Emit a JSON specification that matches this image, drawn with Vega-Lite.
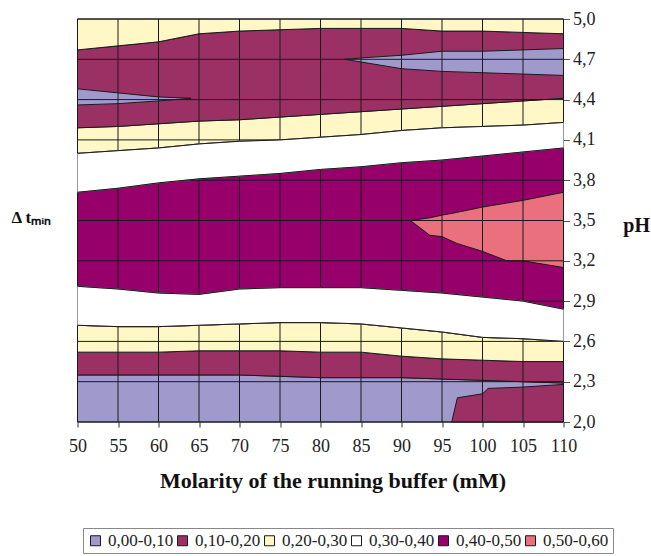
{
"$schema": "https://vega.github.io/schema/vega-lite/v6.json",
"width": 486, "height": 403,
"autosize": {"type": "none"},
"padding": {"left": 77.5, "top": 19, "right": 87.5, "bottom": 134},
"config": {"view": {"stroke": null}, "font": "Liberation Serif"},
"datasets": {
"bands": [
{"r":1,"c":"0,00-0,10","x":50,"lo":2,"hi":2.35},{"r":1,"c":"0,00-0,10","x":55,"lo":2,"hi":2.35},{"r":1,"c":"0,00-0,10","x":60,"lo":2,"hi":2.35},{"r":1,"c":"0,00-0,10","x":65,"lo":2,"hi":2.35},{"r":1,"c":"0,00-0,10","x":70,"lo":2,"hi":2.35},{"r":1,"c":"0,00-0,10","x":75,"lo":2,"hi":2.34},{"r":1,"c":"0,00-0,10","x":80,"lo":2,"hi":2.33},{"r":1,"c":"0,00-0,10","x":85,"lo":2,"hi":2.33},{"r":1,"c":"0,00-0,10","x":90,"lo":2,"hi":2.33},{"r":1,"c":"0,00-0,10","x":95,"lo":2,"hi":2.32},{"r":1,"c":"0,00-0,10","x":100,"lo":2,"hi":2.31},{"r":1,"c":"0,00-0,10","x":105,"lo":2,"hi":2.30},{"r":1,"c":"0,00-0,10","x":110,"lo":2,"hi":2.29},
{"r":2,"c":"0,10-0,20","x":50,"lo":2.35,"hi":2.52},{"r":2,"c":"0,10-0,20","x":55,"lo":2.35,"hi":2.52},{"r":2,"c":"0,10-0,20","x":60,"lo":2.35,"hi":2.52},{"r":2,"c":"0,10-0,20","x":65,"lo":2.35,"hi":2.53},{"r":2,"c":"0,10-0,20","x":70,"lo":2.35,"hi":2.53},{"r":2,"c":"0,10-0,20","x":75,"lo":2.34,"hi":2.53},{"r":2,"c":"0,10-0,20","x":80,"lo":2.33,"hi":2.52},{"r":2,"c":"0,10-0,20","x":85,"lo":2.33,"hi":2.52},{"r":2,"c":"0,10-0,20","x":90,"lo":2.33,"hi":2.49},{"r":2,"c":"0,10-0,20","x":95,"lo":2.32,"hi":2.47},{"r":2,"c":"0,10-0,20","x":100,"lo":2.31,"hi":2.46},{"r":2,"c":"0,10-0,20","x":105,"lo":2.30,"hi":2.45},{"r":2,"c":"0,10-0,20","x":110,"lo":2.29,"hi":2.45},
{"r":3,"c":"0,20-0,30","x":50,"lo":2.52,"hi":2.72},{"r":3,"c":"0,20-0,30","x":55,"lo":2.52,"hi":2.71},{"r":3,"c":"0,20-0,30","x":60,"lo":2.52,"hi":2.71},{"r":3,"c":"0,20-0,30","x":65,"lo":2.53,"hi":2.72},{"r":3,"c":"0,20-0,30","x":70,"lo":2.53,"hi":2.73},{"r":3,"c":"0,20-0,30","x":75,"lo":2.53,"hi":2.74},{"r":3,"c":"0,20-0,30","x":80,"lo":2.52,"hi":2.74},{"r":3,"c":"0,20-0,30","x":85,"lo":2.52,"hi":2.73},{"r":3,"c":"0,20-0,30","x":90,"lo":2.49,"hi":2.70},{"r":3,"c":"0,20-0,30","x":95,"lo":2.47,"hi":2.67},{"r":3,"c":"0,20-0,30","x":100,"lo":2.46,"hi":2.63},{"r":3,"c":"0,20-0,30","x":105,"lo":2.45,"hi":2.62},{"r":3,"c":"0,20-0,30","x":110,"lo":2.45,"hi":2.60},
{"r":4,"c":"0,30-0,40","x":50,"lo":2.72,"hi":3.01},{"r":4,"c":"0,30-0,40","x":55,"lo":2.71,"hi":2.99},{"r":4,"c":"0,30-0,40","x":60,"lo":2.71,"hi":2.96},{"r":4,"c":"0,30-0,40","x":65,"lo":2.72,"hi":2.95},{"r":4,"c":"0,30-0,40","x":70,"lo":2.73,"hi":2.99},{"r":4,"c":"0,30-0,40","x":75,"lo":2.74,"hi":3.00},{"r":4,"c":"0,30-0,40","x":80,"lo":2.74,"hi":3.00},{"r":4,"c":"0,30-0,40","x":85,"lo":2.73,"hi":3.00},{"r":4,"c":"0,30-0,40","x":90,"lo":2.70,"hi":2.98},{"r":4,"c":"0,30-0,40","x":95,"lo":2.67,"hi":2.96},{"r":4,"c":"0,30-0,40","x":100,"lo":2.63,"hi":2.93},{"r":4,"c":"0,30-0,40","x":105,"lo":2.62,"hi":2.90},{"r":4,"c":"0,30-0,40","x":110,"lo":2.60,"hi":2.84},
{"r":5,"c":"0,40-0,50","x":50,"lo":3.01,"hi":3.71},{"r":5,"c":"0,40-0,50","x":55,"lo":2.99,"hi":3.74},{"r":5,"c":"0,40-0,50","x":60,"lo":2.96,"hi":3.78},{"r":5,"c":"0,40-0,50","x":65,"lo":2.95,"hi":3.81},{"r":5,"c":"0,40-0,50","x":70,"lo":2.99,"hi":3.83},{"r":5,"c":"0,40-0,50","x":75,"lo":3.00,"hi":3.85},{"r":5,"c":"0,40-0,50","x":80,"lo":3.00,"hi":3.88},{"r":5,"c":"0,40-0,50","x":85,"lo":3.00,"hi":3.90},{"r":5,"c":"0,40-0,50","x":90,"lo":2.98,"hi":3.93},{"r":5,"c":"0,40-0,50","x":95,"lo":2.96,"hi":3.95},{"r":5,"c":"0,40-0,50","x":100,"lo":2.93,"hi":3.98},{"r":5,"c":"0,40-0,50","x":105,"lo":2.90,"hi":4.01},{"r":5,"c":"0,40-0,50","x":110,"lo":2.84,"hi":4.04},
{"r":6,"c":"0,30-0,40","x":50,"lo":3.71,"hi":4.00},{"r":6,"c":"0,30-0,40","x":55,"lo":3.74,"hi":4.02},{"r":6,"c":"0,30-0,40","x":60,"lo":3.78,"hi":4.04},{"r":6,"c":"0,30-0,40","x":65,"lo":3.81,"hi":4.07},{"r":6,"c":"0,30-0,40","x":70,"lo":3.83,"hi":4.09},{"r":6,"c":"0,30-0,40","x":75,"lo":3.85,"hi":4.10},{"r":6,"c":"0,30-0,40","x":80,"lo":3.88,"hi":4.12},{"r":6,"c":"0,30-0,40","x":85,"lo":3.90,"hi":4.14},{"r":6,"c":"0,30-0,40","x":90,"lo":3.93,"hi":4.17},{"r":6,"c":"0,30-0,40","x":95,"lo":3.95,"hi":4.19},{"r":6,"c":"0,30-0,40","x":100,"lo":3.98,"hi":4.20},{"r":6,"c":"0,30-0,40","x":105,"lo":4.01,"hi":4.21},{"r":6,"c":"0,30-0,40","x":110,"lo":4.04,"hi":4.23},
{"r":7,"c":"0,20-0,30","x":50,"lo":4.00,"hi":4.19},{"r":7,"c":"0,20-0,30","x":55,"lo":4.02,"hi":4.20},{"r":7,"c":"0,20-0,30","x":60,"lo":4.04,"hi":4.22},{"r":7,"c":"0,20-0,30","x":65,"lo":4.07,"hi":4.24},{"r":7,"c":"0,20-0,30","x":70,"lo":4.09,"hi":4.25},{"r":7,"c":"0,20-0,30","x":75,"lo":4.10,"hi":4.27},{"r":7,"c":"0,20-0,30","x":80,"lo":4.12,"hi":4.29},{"r":7,"c":"0,20-0,30","x":85,"lo":4.14,"hi":4.31},{"r":7,"c":"0,20-0,30","x":90,"lo":4.17,"hi":4.33},{"r":7,"c":"0,20-0,30","x":95,"lo":4.19,"hi":4.35},{"r":7,"c":"0,20-0,30","x":100,"lo":4.20,"hi":4.37},{"r":7,"c":"0,20-0,30","x":105,"lo":4.21,"hi":4.39},{"r":7,"c":"0,20-0,30","x":110,"lo":4.23,"hi":4.41},
{"r":8,"c":"0,10-0,20","x":50,"lo":4.19,"hi":4.77},{"r":8,"c":"0,10-0,20","x":55,"lo":4.20,"hi":4.80},{"r":8,"c":"0,10-0,20","x":60,"lo":4.22,"hi":4.83},{"r":8,"c":"0,10-0,20","x":65,"lo":4.24,"hi":4.89},{"r":8,"c":"0,10-0,20","x":70,"lo":4.25,"hi":4.91},{"r":8,"c":"0,10-0,20","x":75,"lo":4.27,"hi":4.92},{"r":8,"c":"0,10-0,20","x":80,"lo":4.29,"hi":4.93},{"r":8,"c":"0,10-0,20","x":85,"lo":4.31,"hi":4.93},{"r":8,"c":"0,10-0,20","x":90,"lo":4.33,"hi":4.93},{"r":8,"c":"0,10-0,20","x":95,"lo":4.35,"hi":4.91},{"r":8,"c":"0,10-0,20","x":100,"lo":4.37,"hi":4.91},{"r":8,"c":"0,10-0,20","x":105,"lo":4.39,"hi":4.90},{"r":8,"c":"0,10-0,20","x":110,"lo":4.41,"hi":4.89},
{"r":9,"c":"0,20-0,30","x":50,"lo":4.77,"hi":5},{"r":9,"c":"0,20-0,30","x":55,"lo":4.80,"hi":5},{"r":9,"c":"0,20-0,30","x":60,"lo":4.83,"hi":5},{"r":9,"c":"0,20-0,30","x":65,"lo":4.89,"hi":5},{"r":9,"c":"0,20-0,30","x":70,"lo":4.91,"hi":5},{"r":9,"c":"0,20-0,30","x":75,"lo":4.92,"hi":5},{"r":9,"c":"0,20-0,30","x":80,"lo":4.93,"hi":5},{"r":9,"c":"0,20-0,30","x":85,"lo":4.93,"hi":5},{"r":9,"c":"0,20-0,30","x":90,"lo":4.93,"hi":5},{"r":9,"c":"0,20-0,30","x":95,"lo":4.91,"hi":5},{"r":9,"c":"0,20-0,30","x":100,"lo":4.91,"hi":5},{"r":9,"c":"0,20-0,30","x":105,"lo":4.90,"hi":5},{"r":9,"c":"0,20-0,30","x":110,"lo":4.89,"hi":5}
],
"overlays": [
{"r":11,"c":"0,00-0,10","x":50,"lo":4.36,"hi":4.48},{"r":11,"c":"0,00-0,10","x":55,"lo":4.37,"hi":4.45},{"r":11,"c":"0,00-0,10","x":60,"lo":4.39,"hi":4.42},{"r":11,"c":"0,00-0,10","x":64,"lo":4.41,"hi":4.41},
{"r":12,"c":"0,00-0,10","x":83,"lo":4.70,"hi":4.70},{"r":12,"c":"0,00-0,10","x":85,"lo":4.68,"hi":4.71},{"r":12,"c":"0,00-0,10","x":90,"lo":4.63,"hi":4.73},{"r":12,"c":"0,00-0,10","x":95,"lo":4.61,"hi":4.76},{"r":12,"c":"0,00-0,10","x":100,"lo":4.60,"hi":4.76},{"r":12,"c":"0,00-0,10","x":105,"lo":4.59,"hi":4.77},{"r":12,"c":"0,00-0,10","x":110,"lo":4.58,"hi":4.78},
{"r":13,"c":"0,50-0,60","x":91.1,"lo":3.50,"hi":3.50},{"r":13,"c":"0,50-0,60","x":93.5,"lo":3.39,"hi":3.52},{"r":13,"c":"0,50-0,60","x":95,"lo":3.38,"hi":3.54},{"r":13,"c":"0,50-0,60","x":96.8,"lo":3.33,"hi":3.56},{"r":13,"c":"0,50-0,60","x":100,"lo":3.27,"hi":3.60},{"r":13,"c":"0,50-0,60","x":103,"lo":3.20,"hi":3.63},{"r":13,"c":"0,50-0,60","x":105,"lo":3.20,"hi":3.65},{"r":13,"c":"0,50-0,60","x":110,"lo":3.15,"hi":3.71},
{"r":14,"c":"0,10-0,20","x":96.2,"lo":2,"hi":2},{"r":14,"c":"0,10-0,20","x":96.9,"lo":2,"hi":2.18},{"r":14,"c":"0,10-0,20","x":100,"lo":2,"hi":2.21},{"r":14,"c":"0,10-0,20","x":100.7,"lo":2,"hi":2.25},{"r":14,"c":"0,10-0,20","x":105,"lo":2,"hi":2.26},{"r":14,"c":"0,10-0,20","x":110,"lo":2,"hi":2.28}
],
"xgrid": [{"v":50},{"v":55},{"v":60},{"v":65},{"v":70},{"v":75},{"v":80},{"v":85},{"v":90},{"v":95},{"v":100},{"v":105},{"v":110}],
"ygrid": [{"v":2.0},{"v":2.3},{"v":2.6},{"v":2.9},{"v":3.2},{"v":3.5},{"v":3.8},{"v":4.1},{"v":4.4},{"v":4.7},{"v":5.0}]
},
"layer": [
{
"data": {"name": "bands"},
"mark": {"type": "area", "stroke": "#1a1a1a", "strokeWidth": 1, "interpolate": "linear"},
"encoding": {
"x": {"field": "x", "type": "quantitative", "scale": {"domain": [50, 110], "nice": false, "zero": false},
"title": "Molarity of the running buffer (mM)",
"axis": {"values": [50,55,60,65,70,75,80,85,90,95,100,105,110], "grid": false, "domain": false, "tickColor": "#333", "tickSize": 5,
"labelFlush": false, "labelOverlap": false,
"labelFont": "Liberation Serif", "labelFontSize": 18, "labelColor": "#222", "labelBaseline": "alphabetic", "labelPadding": 24.7,
"titleFont": "Liberation Serif", "titleFontSize": 22, "titleFontWeight": "bold", "titleColor": "#111",
"titleX": 255, "titleY": 65, "titleAlign": "center", "titleBaseline": "alphabetic"}},
"y": {"field": "lo", "type": "quantitative", "stack": null, "scale": {"domain": [2, 5], "nice": false, "zero": false},
"title": "Δ  tₘᵢₙ",
"axis": {"orient": "left", "labels": false, "ticks": false, "domain": false, "grid": false,
"titleAngle": 0, "titleFont": "Liberation Serif", "titleFontSize": 17, "titleFontWeight": "bold", "titleColor": "#111",
"titleX": -66.5, "titleY": 198, "titleAlign": "left", "titleBaseline": "middle"}},
"y2": {"field": "hi"},
"color": {"field": "c", "type": "nominal",
"scale": {"domain": ["0,00-0,10","0,10-0,20","0,20-0,30","0,30-0,40","0,40-0,50","0,50-0,60"],
"range": ["#9F9ACB","#9B3065","#FFF8C6","#FFFFFF","#97006A","#EA707D"]},
"legend": {"orient": "none", "legendX": 5.5, "legendY": 509, "direction": "horizontal", "columns": 6, "title": null,
"symbolType": "square", "symbolSize": 100, "symbolStrokeColor": "#111", "symbolStrokeWidth": 1, "symbolOpacity": 1,
"labelFont": "Liberation Serif", "labelFontSize": 17, "labelColor": "#222", "labelOffset": 4, "columnPadding": 0,
"padding": 4, "strokeColor": "#888", "fillColor": "#fff"}},
"detail": {"field": "r", "type": "nominal"}
}
},
{
"data": {"name": "overlays"},
"mark": {"type": "area", "stroke": "#1a1a1a", "strokeWidth": 1, "interpolate": "linear"},
"encoding": {
"x": {"field": "x", "type": "quantitative", "scale": {"domain": [50, 110], "nice": false, "zero": false}, "title": "Molarity of the running buffer (mM)"},
"y": {"field": "lo", "type": "quantitative", "stack": null, "scale": {"domain": [2, 5], "nice": false, "zero": false}, "axis": null},
"y2": {"field": "hi"},
"color": {"field": "c", "type": "nominal",
"scale": {"domain": ["0,00-0,10","0,10-0,20","0,20-0,30","0,30-0,40","0,40-0,50","0,50-0,60"],
"range": ["#9F9ACB","#9B3065","#FFF8C6","#FFFFFF","#97006A","#EA707D"]}},
"detail": {"field": "r", "type": "nominal"}
}
},
{
"data": {"name": "xgrid"},
"mark": {"type": "rule", "color": "#1a1a1a", "strokeWidth": 1},
"encoding": {
"x": {"field": "v", "type": "quantitative", "scale": {"domain": [50, 110], "nice": false, "zero": false}, "title": "Molarity of the running buffer (mM)"}
}
},
{
"data": {"name": "ygrid"},
"mark": {"type": "rule", "color": "#1a1a1a", "strokeWidth": 1},
"encoding": {
"y": {"field": "v", "type": "quantitative", "scale": {"domain": [2, 5], "nice": false, "zero": false},
"title": "pH",
"axis": {"orient": "right", "values": [2.0,2.3,2.6,2.9,3.2,3.5,3.8,4.1,4.4,4.7,5.0], "grid": false, "domain": false,
"labelExpr": "replace(format(datum.value, '.1f'), '.', ',')", "labelFlush": false, "labelOverlap": false,
"tickColor": "#555", "tickSize": 6, "labelPadding": 3, "labelFont": "Liberation Serif", "labelFontSize": 18, "labelColor": "#222",
"titleAngle": 0, "titleFont": "Liberation Serif", "titleFontSize": 20, "titleFontWeight": "bold", "titleColor": "#111",
"titleX": 72.7, "titleY": 206, "titleAlign": "center", "titleBaseline": "middle"}}
}
},
{
"data": {"name": "bands"},
"transform": [{"filter": "datum.c === '0,30-0,40'"}],
"mark": {"type": "area", "fill": "#ffffff", "stroke": "#999999", "strokeWidth": 1, "interpolate": "linear"},
"encoding": {
"x": {"field": "x", "type": "quantitative", "scale": {"domain": [50, 110], "nice": false, "zero": false}, "title": "Molarity of the running buffer (mM)"},
"y": {"field": "lo", "type": "quantitative", "stack": null, "scale": {"domain": [2, 5], "nice": false, "zero": false}, "axis": null},
"y2": {"field": "hi"},
"detail": {"field": "r", "type": "nominal"}
}
},
{
"data": {"name": "bands"},
"transform": [{"filter": "datum.c === '0,30-0,40'"}],
"mark": {"type": "line", "color": "#1a1a1a", "strokeWidth": 1},
"encoding": {
"x": {"field": "x", "type": "quantitative", "scale": {"domain": [50, 110], "nice": false, "zero": false}, "title": "Molarity of the running buffer (mM)"},
"y": {"field": "lo", "type": "quantitative", "scale": {"domain": [2, 5], "nice": false, "zero": false}, "axis": null},
"detail": {"field": "r", "type": "nominal"}
}
},
{
"data": {"name": "bands"},
"transform": [{"filter": "datum.c === '0,30-0,40'"}],
"mark": {"type": "line", "color": "#1a1a1a", "strokeWidth": 1},
"encoding": {
"x": {"field": "x", "type": "quantitative", "scale": {"domain": [50, 110], "nice": false, "zero": false}, "title": "Molarity of the running buffer (mM)"},
"y": {"field": "hi", "type": "quantitative", "scale": {"domain": [2, 5], "nice": false, "zero": false}, "axis": null},
"detail": {"field": "r", "type": "nominal"}
}
}
],
"resolve": {"axis": {"y": "independent"}}
}
